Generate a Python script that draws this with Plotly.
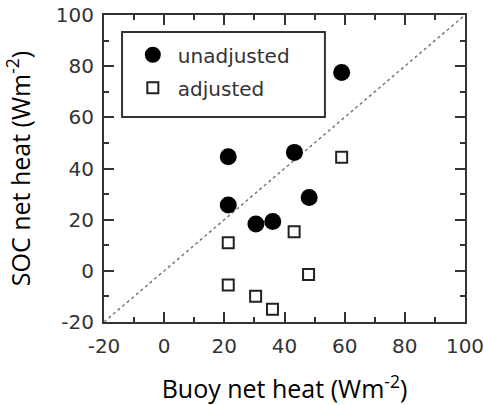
import plotly.graph_objects as go

# data
unadj_x = [59.0, 21.3, 43.3, 21.3, 48.2, 30.5, 36.1]
unadj_y = [77.5, 44.6, 46.3, 25.7, 28.7, 18.3, 19.3]
adj_x = [59.0, 21.3, 43.2, 48.0, 21.3, 30.4, 36.0]
adj_y = [44.4, 11.0, 15.3, -1.4, -5.5, -9.9, -15.0]
diag_x = [-20, 100]
diag_y = [-20, 100]
tick_vals = [-20, 0, 20, 40, 60, 80, 100]
tick_text = ["-20", "0", "20", "40", "60", "80", "100"]

fig = go.Figure()
fig.add_trace(go.Scatter(x=diag_x, y=diag_y, mode="lines",
                         line=dict(color="#777777", width=1.5, dash="dot"),
                         showlegend=False, hoverinfo="skip"))
fig.add_trace(go.Scatter(x=unadj_x, y=unadj_y, mode="markers", name="unadjusted",
                         legendgroup="a",
                         marker=dict(symbol="circle", size=17, color="black")))
fig.add_trace(go.Scatter(x=adj_x, y=adj_y, mode="markers", name="adjusted",
                         legendgroup="b",
                         marker=dict(symbol="square-open", size=11, color="#222222",
                                     line=dict(width=2, color="#222222"))))

axis_common = dict(
    range=[-20, 100], tickvals=tick_vals, ticktext=tick_text,
    ticks="inside", ticklen=10, tickwidth=2, tickcolor="#333333",
    minor=dict(ticks="inside", ticklen=5, tickwidth=2, tickcolor="#333333", dtick=10),
    showline=True, linewidth=2, linecolor="#333333", mirror="ticks",
    showgrid=False, zeroline=False, automargin=False,
    ticklabeloverflow="allow",
    tickfont=dict(family="DejaVu Sans", size=20, color="#333333"),
)

fig.update_xaxes(**axis_common, ticklabelstandoff=5,
                 title=dict(text="Buoy net heat (Wm<sup>-2</sup>)",
                            font=dict(family="Open Sans", size=25, color="black"),
                            standoff=25))
fig.update_yaxes(**axis_common, ticklabelstandoff=4,
                 title=dict(text="SOC net heat (Wm<sup>-2</sup>)",
                            font=dict(family="Open Sans", size=25, color="black"),
                            standoff=21))

fig.add_shape(type="rect", xref="paper", yref="paper",
              x0=0.05, x1=0.612, y0=0.668, y1=0.945,
              line=dict(color="#333333", width=2), fillcolor="rgba(0,0,0,0)")

fig.update_layout(
    width=484, height=405,
    margin=dict(l=104, r=19, t=15, b=83),
    plot_bgcolor="white", paper_bgcolor="white",
    legend=dict(x=0.066, y=0.934, xanchor="left", yanchor="top",
                bgcolor="rgba(0,0,0,0)", borderwidth=0,
                tracegroupgap=4, itemwidth=40,
                font=dict(family="DejaVu Sans", size=20, color="#333333")),
)

fig.write_html("out.html", config={"displayModeBar": False},
               post_script="document.body.style.margin='0px';document.body.style.padding='0px';")
